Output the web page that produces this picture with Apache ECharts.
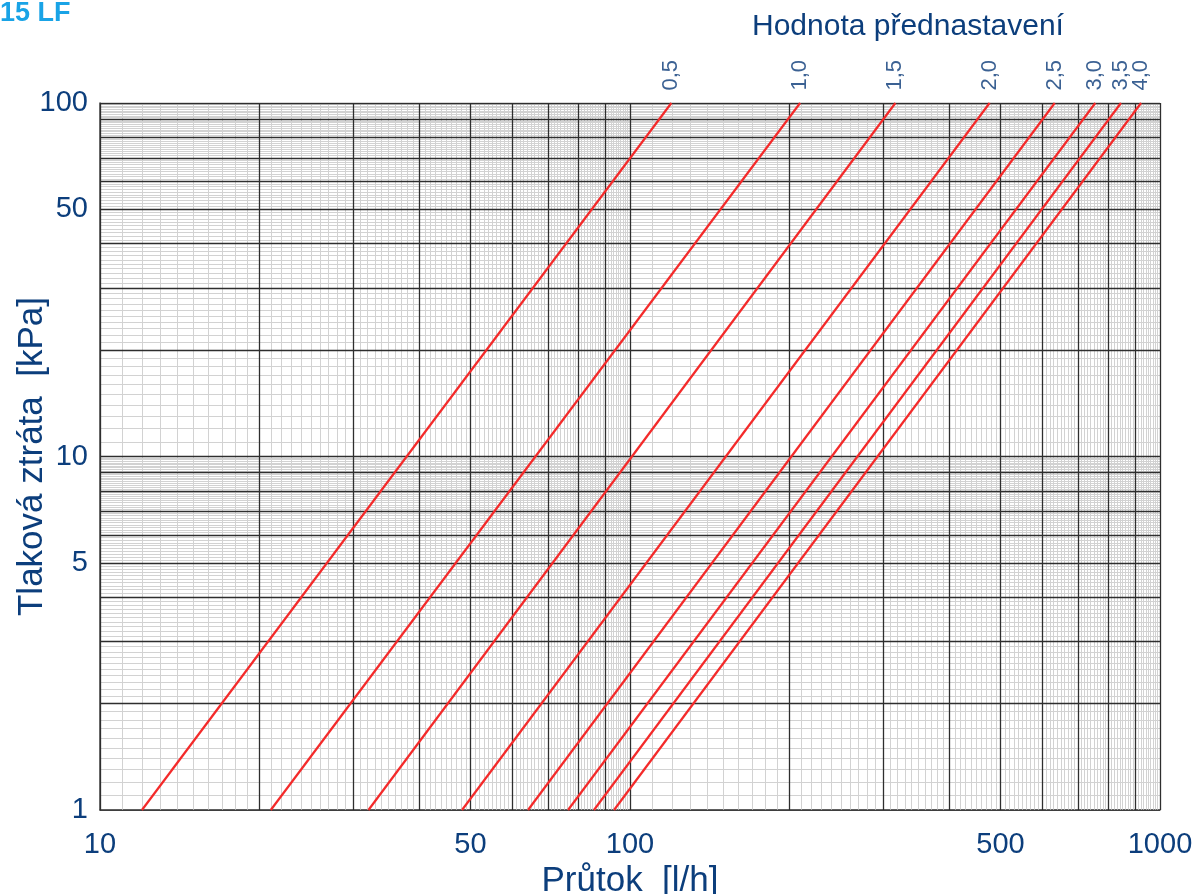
<!DOCTYPE html>
<html>
<head>
<meta charset="utf-8">
<script src="https://cdn.jsdelivr.net/npm/echarts@6/dist/echarts.min.js"></script>
<style>
html,body{margin:0;padding:0;background:#fff;}
#chart{width:1195px;height:894px;}
</style>
</head>
<body>
<div id="chart"></div>
<script>
// Settings (Hodnota přednastavení)
const settings = ['0,5', '1,0', '1,5', '2,0', '2,5', '3,0', '3,5', '4,0'];
// Flow [l/h] at 1 kPa and at 100 kPa for each setting
const flowAt1kPa = [12.0, 21.0, 32.1, 48.2, 64.2, 76.4, 85.5, 93.3];
const flowAt100kPa = [119.7, 209.4, 316.8, 477, 633, 755, 844, 921];
const pressureEnds = [1, 100];
// Tick labels
const xTickLabels = [10, 50, 100, 500, 1000];
const yTickLabels = [1, 5, 10, 50, 100];

const TEXT = '#0c3e7c';
const FONT = '"Liberation Sans", Arial, sans-serif';

// Graph-paper grid values
const xMajor = [], xMinor = [], yMajor = [], yMinor = [];
for (let k = 1; k <= 10; k++) { xMajor.push(10 * k); if (k > 1) xMajor.push(100 * k); }
for (let v = 11; v < 100; v++) if (v % 10) xMinor.push(v);
for (let v = 110; v < 1000; v += 10) if (v % 100) xMinor.push(v);
for (let k = 1; k <= 10; k++) { yMajor.push(k); if (k > 1) yMajor.push(10 * k); }
for (let i = 11; i < 100; i++) if (i % 10) yMinor.push(i / 10);
for (let v = 11; v < 100; v++) if (v % 10) yMinor.push(v);

const vLines = xs => xs.map(x => ({ coords: [[x, 1], [x, 100]] }));
const hLines = ys => ys.map(y => ({ coords: [[10, y], [1000, y]] }));

const series = [
  { type: 'lines', coordinateSystem: 'cartesian2d', z: 1, silent: true,
    lineStyle: { color: '#d2d2d2', width: 1, opacity: 1 },
    data: vLines(xMinor).concat(hLines(yMinor)) },
  { type: 'lines', coordinateSystem: 'cartesian2d', z: 2, silent: true,
    lineStyle: { color: '#2e2e2e', width: 1.3, opacity: 1 },
    data: vLines(xMajor).concat(hLines(yMajor)) }
];

settings.forEach((s, i) => {
  series.push({
    type: 'line', name: s, z: 5, symbol: 'none', silent: true,
    lineStyle: { color: '#f42a2a', width: 2.2 },
    data: [[flowAt1kPa[i], pressureEnds[0]], [flowAt100kPa[i], pressureEnds[1]]]
  });
});

series.push({
  type: 'scatter', z: 6, symbolSize: 1, silent: true,
  itemStyle: { color: 'transparent' },
  label: {
    show: true, position: 'top', distance: 12, rotate: 90,
    align: 'left', verticalAlign: 'middle', formatter: '{b}',
    color: '#0a3a78', fontSize: 22, fontFamily: FONT
  },
  data: settings.map((s, i) => ({ name: s, value: [flowAt100kPa[i], pressureEnds[1]] }))
});

const chart = echarts.init(document.getElementById('chart'), null, { renderer: 'canvas' });
chart.setOption({
  animation: false,
  backgroundColor: '#ffffff',
  title: [
    { text: '15 LF', left: 0, top: 0, padding: 0,
      textStyle: { color: '#19a3e6', fontSize: 27, fontWeight: 'bold', fontFamily: FONT } },
    { text: 'Hodnota přednastavení', left: 752, top: 12, padding: 0,
      textStyle: { color: TEXT, fontSize: 30, fontWeight: 'normal', fontFamily: FONT } }
  ],
  grid: { left: 100, right: 35, top: 103, bottom: 84, containLabel: false, outerBoundsMode: 'none' },
  xAxis: {
    type: 'log', logBase: 10, min: 10, max: 1000,
    name: 'Průtok  [l/h]', nameLocation: 'middle', nameGap: 50,
    nameTextStyle: { color: TEXT, fontSize: 35, fontFamily: FONT },
    axisLine: { show: true, lineStyle: { color: '#444', width: 1.5 } },
    axisTick: { show: false },
    splitLine: { show: false },
    axisLabel: { customValues: xTickLabels, formatter: v => String(v),
      color: TEXT, fontSize: 29, fontFamily: FONT, margin: 20 }
  },
  yAxis: {
    type: 'log', logBase: 10, min: 1, max: 100,
    name: 'Tlaková ztráta  [kPa]', nameLocation: 'middle', nameGap: 50,
    nameMoveOverlap: false,
    nameTextStyle: { color: TEXT, fontSize: 35, fontFamily: FONT },
    axisLine: { show: true, lineStyle: { color: '#444', width: 1.5 } },
    axisTick: { show: false },
    splitLine: { show: false },
    axisLabel: { customValues: yTickLabels, formatter: v => String(v),
      color: TEXT, fontSize: 29, fontFamily: FONT, margin: 12 }
  },
  series: series
});
</script>
</body>
</html>
